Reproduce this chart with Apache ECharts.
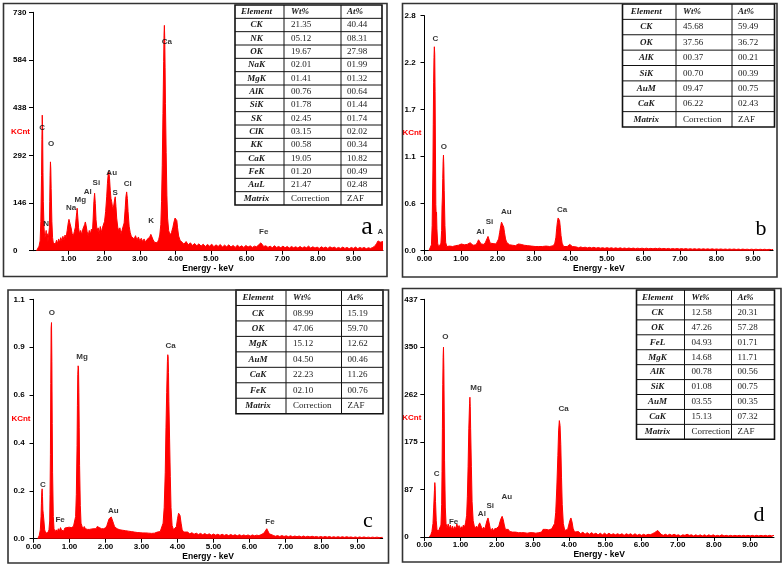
<!DOCTYPE html>
<html>
<head>
<meta charset="utf-8">
<script src="https://cdn.jsdelivr.net/npm/echarts@6.0.0/dist/echarts.min.js"></script>
<style>
  html, body { margin: 0; padding: 0; background: #fff; }
  #chart { width: 782px; height: 565px; }
</style>
</head>
<body>
<div id="chart"></div>
<script>
// EDS spectra, energy (keV) vs counts
const specA = [[0.10,0],[0.14,6],[0.17,14],[0.20,30],[0.22,90],[0.24,230],[0.25,340],[0.26,415],[0.27,370],[0.28,240],[0.29,150],[0.31,70],[0.33,38],[0.35,46],[0.37,62],[0.38,40],[0.40,52],[0.42,28],[0.44,34],[0.46,70],[0.47,150],[0.48,230],[0.49,272],[0.50,250],[0.51,190],[0.53,90],[0.55,40],[0.57,24],[0.60,30],[0.63,20],[0.66,32],[0.69,22],[0.72,36],[0.75,26],[0.78,40],[0.81,30],[0.84,44],[0.87,32],[0.90,48],[0.93,40],[0.96,62],[0.99,85],[1.01,96],[1.03,100],[1.05,90],[1.07,70],[1.10,52],[1.13,44],[1.16,58],[1.19,72],[1.21,98],[1.23,118],[1.24,130],[1.26,100],[1.28,70],[1.31,50],[1.34,62],[1.37,48],[1.40,66],[1.43,60],[1.45,80],[1.47,88],[1.49,78],[1.52,58],[1.55,46],[1.58,62],[1.61,50],[1.64,66],[1.67,58],[1.69,100],[1.71,150],[1.73,176],[1.75,145],[1.77,95],[1.80,62],[1.83,70],[1.86,52],[1.89,74],[1.92,56],[1.95,70],[1.98,64],[2.01,90],[2.04,120],[2.07,165],[2.09,205],[2.11,232],[2.13,242],[2.15,220],[2.17,185],[2.19,160],[2.21,150],[2.23,135],[2.25,128],[2.27,140],[2.29,155],[2.31,165],[2.33,135],[2.35,100],[2.38,72],[2.41,60],[2.44,70],[2.47,52],[2.50,62],[2.53,58],[2.56,85],[2.59,130],[2.61,165],[2.63,180],[2.65,160],[2.67,120],[2.70,75],[2.73,56],[2.76,44],[2.80,50],[2.84,36],[2.88,46],[2.92,32],[2.96,42],[3.00,30],[3.04,38],[3.08,28],[3.12,36],[3.16,26],[3.20,34],[3.24,30],[3.28,42],[3.31,50],[3.34,45],[3.37,34],[3.41,26],[3.45,32],[3.49,24],[3.53,34],[3.56,48],[3.59,80],[3.61,150],[3.63,260],[3.65,420],[3.67,580],[3.68,660],[3.69,690],[3.70,650],[3.71,560],[3.72,450],[3.74,300],[3.76,170],[3.78,100],[3.81,62],[3.85,48],[3.89,56],[3.93,72],[3.96,88],[3.99,100],[4.02,104],[4.04,92],[4.06,70],[4.09,45],[4.13,32],[4.18,26],[4.24,20],[4.30,28],[4.36,18],[4.42,24],[4.48,16],[4.54,22],[4.60,15],[4.66,21],[4.72,14],[4.78,20],[4.84,13],[4.90,19],[4.96,14],[5.02,20],[5.08,12],[5.14,18],[5.20,13],[5.26,19],[5.32,11],[5.38,17],[5.44,12],[5.50,18],[5.56,11],[5.62,16],[5.68,10],[5.74,17],[5.80,11],[5.86,15],[5.92,10],[5.98,16],[6.04,11],[6.10,15],[6.16,10],[6.22,14],[6.28,12],[6.34,18],[6.40,24],[6.44,20],[6.48,13],[6.54,15],[6.60,10],[6.66,14],[6.72,9],[6.78,15],[6.84,10],[6.90,13],[6.96,9],[7.02,14],[7.08,9],[7.14,13],[7.20,8],[7.26,13],[7.32,9],[7.38,12],[7.44,8],[7.50,13],[7.56,8],[7.62,12],[7.68,9],[7.74,14],[7.80,8],[7.86,12],[7.92,8],[7.98,11],[8.04,7],[8.10,12],[8.16,8],[8.22,11],[8.28,7],[8.34,12],[8.40,8],[8.46,11],[8.52,7],[8.58,10],[8.64,7],[8.70,11],[8.76,7],[8.82,10],[8.88,6],[8.94,10],[9.00,7],[9.06,11],[9.12,6],[9.18,10],[9.24,7],[9.30,10],[9.36,6],[9.42,9],[9.48,7],[9.54,10],[9.60,14],[9.65,22],[9.69,30],[9.72,34],[9.75,26],[9.79,30],[9.83,28]];

const specB = [[0.12,0],[0.16,0.02],[0.19,0.07],[0.21,0.3],[0.23,0.95],[0.24,1.5],[0.25,2.0],[0.26,2.3],[0.27,2.43],[0.28,2.34],[0.29,1.9],[0.30,1.2],[0.31,0.55],[0.32,0.42],[0.33,0.46],[0.34,0.26],[0.36,0.09],[0.39,0.04],[0.42,0.05],[0.45,0.09],[0.47,0.24],[0.48,0.52],[0.49,0.64],[0.50,0.86],[0.51,1.06],[0.52,1.14],[0.53,1.0],[0.54,0.72],[0.56,0.3],[0.58,0.1],[0.61,0.05],[0.65,0.04],[0.69,0.055],[0.73,0.04],[0.77,0.05],[0.81,0.045],[0.85,0.06],[0.89,0.05],[0.93,0.065],[0.97,0.06],[1.01,0.08],[1.05,0.085],[1.09,0.07],[1.13,0.06],[1.17,0.075],[1.21,0.085],[1.25,0.095],[1.29,0.08],[1.33,0.065],[1.37,0.08],[1.41,0.07],[1.45,0.1],[1.48,0.13],[1.51,0.11],[1.55,0.08],[1.59,0.09],[1.63,0.075],[1.67,0.1],[1.71,0.14],[1.74,0.17],[1.77,0.13],[1.80,0.09],[1.84,0.075],[1.88,0.085],[1.92,0.07],[1.96,0.08],[2.00,0.1],[2.03,0.14],[2.06,0.22],[2.09,0.3],[2.11,0.34],[2.13,0.35],[2.15,0.32],[2.17,0.28],[2.19,0.22],[2.22,0.14],[2.25,0.1],[2.29,0.08],[2.33,0.07],[2.37,0.08],[2.41,0.065],[2.45,0.075],[2.49,0.06],[2.53,0.07],[2.57,0.08],[2.61,0.09],[2.65,0.075],[2.69,0.06],[2.73,0.065],[2.78,0.05],[2.83,0.06],[2.88,0.045],[2.93,0.055],[2.98,0.045],[3.03,0.05],[3.08,0.04],[3.13,0.05],[3.18,0.04],[3.23,0.05],[3.28,0.045],[3.33,0.055],[3.38,0.045],[3.43,0.05],[3.48,0.045],[3.53,0.06],[3.57,0.09],[3.60,0.16],[3.62,0.26],[3.64,0.34],[3.66,0.39],[3.68,0.4],[3.70,0.36],[3.72,0.28],[3.74,0.18],[3.77,0.09],[3.81,0.05],[3.86,0.045],[3.91,0.05],[3.95,0.06],[3.98,0.075],[4.01,0.07],[4.05,0.05],[4.10,0.04],[4.16,0.045],[4.22,0.035],[4.28,0.045],[4.34,0.035],[4.40,0.042],[4.46,0.033],[4.52,0.04],[4.58,0.032],[4.64,0.04],[4.70,0.03],[4.76,0.038],[4.82,0.03],[4.88,0.036],[4.94,0.028],[5.00,0.036],[5.06,0.028],[5.12,0.035],[5.18,0.027],[5.24,0.034],[5.30,0.026],[5.36,0.034],[5.42,0.026],[5.48,0.032],[5.54,0.025],[5.60,0.032],[5.66,0.025],[5.72,0.031],[5.78,0.024],[5.84,0.03],[5.90,0.024],[5.96,0.03],[6.02,0.023],[6.08,0.03],[6.14,0.023],[6.20,0.028],[6.26,0.022],[6.32,0.029],[6.38,0.024],[6.44,0.03],[6.50,0.022],[6.56,0.027],[6.62,0.021],[6.68,0.027],[6.74,0.02],[6.80,0.026],[6.86,0.02],[6.92,0.026],[6.98,0.019],[7.04,0.025],[7.10,0.019],[7.16,0.025],[7.22,0.018],[7.28,0.024],[7.34,0.018],[7.40,0.024],[7.46,0.017],[7.52,0.023],[7.58,0.017],[7.64,0.023],[7.70,0.017],[7.76,0.022],[7.82,0.016],[7.88,0.022],[7.94,0.016],[8.00,0.021],[8.06,0.016],[8.12,0.021],[8.18,0.015],[8.24,0.02],[8.30,0.015],[8.36,0.02],[8.42,0.015],[8.48,0.02],[8.54,0.014],[8.60,0.019],[8.66,0.014],[8.72,0.019],[8.78,0.014],[8.84,0.018],[8.90,0.013],[8.96,0.018],[9.02,0.013],[9.08,0.018],[9.14,0.013],[9.20,0.017],[9.26,0.013],[9.32,0.017],[9.38,0.012],[9.44,0.016],[9.50,0.013],[9.55,0.015]];

const specC = [[0.12,0],[0.16,0.015],[0.19,0.04],[0.21,0.1],[0.22,0.16],[0.23,0.21],[0.24,0.225],[0.25,0.19],[0.26,0.13],[0.27,0.115],[0.28,0.12],[0.29,0.08],[0.31,0.04],[0.34,0.025],[0.37,0.03],[0.40,0.028],[0.43,0.04],[0.45,0.08],[0.46,0.2],[0.47,0.38],[0.48,0.7],[0.49,0.95],[0.50,0.975],[0.51,0.8],[0.52,0.52],[0.53,0.3],[0.55,0.1],[0.57,0.045],[0.60,0.03],[0.63,0.04],[0.66,0.03],[0.69,0.045],[0.72,0.035],[0.75,0.05],[0.78,0.038],[0.81,0.045],[0.84,0.035],[0.87,0.048],[0.90,0.04],[0.93,0.05],[0.96,0.042],[0.99,0.052],[1.02,0.044],[1.05,0.05],[1.08,0.045],[1.11,0.055],[1.14,0.06],[1.17,0.1],[1.19,0.2],[1.21,0.42],[1.22,0.6],[1.23,0.74],[1.24,0.78],[1.25,0.77],[1.26,0.66],[1.27,0.5],[1.28,0.33],[1.30,0.15],[1.32,0.07],[1.35,0.055],[1.38,0.045],[1.41,0.055],[1.44,0.045],[1.47,0.05],[1.50,0.042],[1.53,0.05],[1.56,0.042],[1.59,0.05],[1.62,0.044],[1.65,0.052],[1.68,0.045],[1.71,0.05],[1.74,0.045],[1.77,0.055],[1.80,0.06],[1.83,0.05],[1.86,0.055],[1.89,0.045],[1.92,0.05],[1.95,0.045],[1.98,0.052],[2.01,0.05],[2.04,0.06],[2.07,0.075],[2.10,0.09],[2.13,0.097],[2.16,0.098],[2.19,0.09],[2.22,0.07],[2.25,0.055],[2.28,0.05],[2.32,0.045],[2.36,0.05],[2.40,0.04],[2.44,0.045],[2.48,0.038],[2.52,0.042],[2.56,0.036],[2.60,0.04],[2.64,0.034],[2.68,0.038],[2.72,0.032],[2.76,0.036],[2.80,0.03],[2.84,0.034],[2.88,0.028],[2.92,0.033],[2.96,0.027],[3.00,0.032],[3.04,0.026],[3.08,0.031],[3.12,0.026],[3.16,0.03],[3.20,0.025],[3.24,0.03],[3.28,0.024],[3.32,0.029],[3.36,0.025],[3.40,0.032],[3.44,0.03],[3.48,0.028],[3.52,0.032],[3.56,0.04],[3.60,0.07],[3.63,0.14],[3.66,0.3],[3.68,0.5],[3.70,0.66],[3.72,0.8],[3.73,0.83],[3.74,0.82],[3.75,0.75],[3.76,0.62],[3.78,0.45],[3.80,0.28],[3.82,0.14],[3.85,0.06],[3.89,0.04],[3.93,0.042],[3.97,0.055],[4.00,0.09],[4.03,0.115],[4.05,0.12],[4.07,0.105],[4.10,0.07],[4.13,0.04],[4.17,0.03],[4.22,0.025],[4.28,0.03],[4.34,0.022],[4.40,0.027],[4.46,0.02],[4.52,0.025],[4.58,0.019],[4.64,0.024],[4.70,0.018],[4.76,0.023],[4.82,0.017],[4.88,0.022],[4.94,0.016],[5.00,0.021],[5.06,0.016],[5.12,0.02],[5.18,0.015],[5.24,0.02],[5.30,0.015],[5.36,0.019],[5.42,0.014],[5.48,0.019],[5.54,0.014],[5.60,0.018],[5.66,0.013],[5.72,0.018],[5.78,0.013],[5.84,0.017],[5.90,0.013],[5.96,0.017],[6.02,0.012],[6.08,0.017],[6.14,0.013],[6.20,0.016],[6.26,0.014],[6.32,0.018],[6.36,0.02],[6.40,0.025],[6.44,0.035],[6.48,0.045],[6.51,0.04],[6.55,0.022],[6.60,0.013],[6.66,0.015],[6.72,0.011],[6.78,0.014],[6.84,0.01],[6.90,0.014],[6.96,0.01],[7.02,0.013],[7.08,0.009],[7.14,0.013],[7.20,0.009],[7.26,0.012],[7.32,0.009],[7.38,0.012],[7.44,0.008],[7.50,0.012],[7.56,0.008],[7.62,0.011],[7.68,0.008],[7.74,0.011],[7.80,0.008],[7.86,0.01],[7.92,0.007],[7.98,0.01],[8.04,0.007],[8.10,0.01],[8.16,0.007],[8.22,0.01],[8.28,0.006],[8.34,0.009],[8.40,0.006],[8.46,0.009],[8.52,0.006],[8.58,0.009],[8.64,0.006],[8.70,0.009],[8.76,0.006],[8.82,0.008],[8.88,0.005],[8.94,0.008],[9.00,0.005],[9.06,0.008],[9.12,0.005],[9.18,0.008],[9.24,0.005],[9.30,0.007],[9.36,0.005],[9.42,0.007],[9.48,0.005],[9.54,0.007],[9.60,0.005],[9.70,0.006]];

const specD = [[0.14,0],[0.18,4],[0.21,10],[0.24,25],[0.26,55],[0.28,85],[0.29,100],[0.30,92],[0.31,65],[0.33,30],[0.35,14],[0.38,10],[0.41,14],[0.44,12],[0.46,22],[0.48,60],[0.49,120],[0.50,200],[0.51,280],[0.52,330],[0.53,349],[0.54,310],[0.55,230],[0.56,140],[0.58,55],[0.60,25],[0.63,16],[0.66,24],[0.69,15],[0.72,22],[0.75,14],[0.78,20],[0.81,13],[0.84,19],[0.87,15],[0.90,24],[0.93,16],[0.96,21],[0.99,14],[1.02,19],[1.05,15],[1.08,22],[1.11,18],[1.14,26],[1.17,40],[1.19,75],[1.21,130],[1.23,200],[1.25,245],[1.26,257],[1.27,240],[1.28,200],[1.30,130],[1.32,65],[1.35,30],[1.38,20],[1.41,16],[1.44,20],[1.47,16],[1.50,22],[1.53,26],[1.55,24],[1.58,18],[1.61,14],[1.64,18],[1.67,14],[1.70,22],[1.73,30],[1.76,35],[1.79,26],[1.82,16],[1.85,12],[1.88,16],[1.91,11],[1.94,15],[1.97,12],[2.00,16],[2.03,13],[2.06,20],[2.09,28],[2.12,34],[2.15,38],[2.18,32],[2.21,22],[2.24,14],[2.28,11],[2.32,14],[2.36,10],[2.40,13],[2.44,9],[2.48,12],[2.52,9],[2.56,12],[2.60,8],[2.64,11],[2.68,8],[2.72,11],[2.76,8],[2.80,10],[2.84,7],[2.88,10],[2.92,8],[2.96,11],[3.00,8],[3.04,10],[3.08,7],[3.12,10],[3.16,8],[3.20,11],[3.24,9],[3.28,14],[3.32,16],[3.36,14],[3.40,17],[3.44,13],[3.48,12],[3.52,15],[3.56,18],[3.60,25],[3.63,45],[3.66,90],[3.69,150],[3.71,195],[3.73,214],[3.75,205],[3.77,170],[3.79,110],[3.81,60],[3.84,25],[3.88,12],[3.92,10],[3.96,14],[3.99,22],[4.02,30],[4.05,35],[4.08,28],[4.11,16],[4.15,9],[4.20,7],[4.26,10],[4.32,6],[4.38,9],[4.44,5],[4.50,8],[4.56,5],[4.62,8],[4.68,5],[4.74,7],[4.80,4],[4.86,7],[4.92,4],[4.98,7],[5.04,4],[5.10,7],[5.16,4],[5.22,6],[5.28,4],[5.34,6],[5.40,4],[5.46,6],[5.52,3],[5.58,6],[5.64,4],[5.70,6],[5.76,3],[5.82,6],[5.88,3],[5.94,5],[6.00,3],[6.06,5],[6.12,3],[6.18,5],[6.24,4],[6.30,6],[6.36,8],[6.41,11],[6.45,12],[6.49,9],[6.54,5],[6.60,3],[6.66,5],[6.72,3],[6.78,5],[6.84,3],[6.90,5],[6.96,3],[7.02,4],[7.08,2],[7.14,4],[7.20,3],[7.26,5],[7.32,3],[7.38,4],[7.44,2],[7.50,4],[7.56,2],[7.62,4],[7.68,2],[7.74,4],[7.80,2],[7.86,4],[7.92,2],[7.98,4],[8.04,2],[8.10,3],[8.16,2],[8.22,4],[8.28,2],[8.34,3],[8.40,2],[8.46,3],[8.52,2],[8.58,3],[8.64,2],[8.70,3],[8.76,2],[8.82,3],[8.88,2],[8.94,3],[9.00,2],[9.06,3],[9.12,2],[9.18,3],[9.24,2],[9.30,3],[9.36,2],[9.42,3],[9.48,2],[9.54,3],[9.60,2],[9.66,3]];

// peak labels (element name, keV, label height)
const peakNamesA = ['C','O','N','Na','Mg','Al','Si','Au','S','Cl','K','Ca','Fe','A'];
const peakXA = [0.26,0.51,0.37,1.07,1.33,1.54,1.78,2.21,2.31,2.66,3.32,3.76,6.48,9.76];
const peakYA = [377,326,81,130,155,180,208,239,177,206,91,639,58,58];
const peakNamesB = ['C','O','Al','Si','Au','Ca'];
const peakXB = [0.30,0.53,1.53,1.78,2.24,3.77];
const peakYB = [2.53,1.24,0.23,0.35,0.46,0.49];
const peakNamesC = ['C','O','Fe','Mg','Au','Ca','Fe'];
const peakXC = [0.26,0.51,0.74,1.35,2.22,3.81,6.57];
const peakYC = [0.244,1.02,0.084,0.82,0.126,0.868,0.078];
const peakNamesD = ['C','O','Fe','Mg','Al','Si','Au','Ca'];
const peakXD = [0.34,0.58,0.81,1.43,1.59,1.82,2.28,3.85];
const peakYD = [116,368,27.6,274,42,58,73.5,235];

// quantification tables
const elemA = ['CK','NK','OK','NaK','MgK','AlK','SiK','SK','ClK','KK','CaK','FeK','AuL'];
const wtA = ['21.35','05.12','19.67','02.01','01.41','00.76','01.78','02.45','03.15','00.58','19.05','01.20','21.47'];
const atA = ['40.44','08.31','27.98','01.99','01.32','00.64','01.44','01.74','02.02','00.34','10.82','00.49','02.48'];
const elemB = ['CK','OK','AlK','SiK','AuM','CaK'];
const wtB = ['45.68','37.56','00.37','00.70','09.47','06.22'];
const atB = ['59.49','36.72','00.21','00.39','00.75','02.43'];
const elemC = ['CK','OK','MgK','AuM','CaK','FeK'];
const wtC = ['08.99','47.06','15.12','04.50','22.23','02.10'];
const atC = ['15.19','59.70','12.62','00.46','11.26','00.76'];
const elemD = ['CK','OK','FeL','MgK','AlK','SiK','AuM','CaK'];
const wtD = ['12.58','47.26','04.93','14.68','00.78','01.08','03.55','15.13'];
const atD = ['20.31','57.28','01.71','11.71','00.56','00.75','00.35','07.32'];

// y axis ranges: max and tick step
const yMax = [730, 2.8, 1.08, 437];
const yStep = [146, 0.56, 0.216, 87.4];
const yDigits = [0, 1, 1, 0];
const xMax = [9.83, 9.55, 9.7, 9.66];
const xTicksA = [1,2,3,4,5,6,7,8,9];
const xTicks = [0,1,2,3,4,5,6,7,8,9];

const SANS = 'Arial, "Liberation Sans", sans-serif';
const SERIF = '"Liberation Serif", "Times New Roman", serif';
const RED = '#ff0000';

const grids = [
  {left: 33, top: 12.3, width: 350, height: 238.4},
  {left: 424.5, top: 15.7, width: 348.6, height: 235},
  {left: 33.5, top: 299.3, width: 349.2, height: 239.4},
  {left: 424.3, top: 299.3, width: 349.7, height: 237.7}
].map(g => Object.assign({outerBoundsMode: 'none', containLabel: false}, g));

const xAxes = grids.map((g, i) => ({
  type: 'value', gridIndex: i, min: 0, max: xMax[i],
  name: 'Energy - keV', nameLocation: 'middle', nameGap: 13,
  nameTextStyle: {fontFamily: SANS, fontWeight: 'bold', fontSize: 8.5, color: '#000'},
  axisLine: {lineStyle: {color: '#000', width: 1}},
  axisTick: {length: 4, lineStyle: {color: '#000'}, customValues: i === 0 ? xTicksA : xTicks},
  axisLabel: {customValues: i === 0 ? xTicksA : xTicks, formatter: v => v.toFixed(2),
    fontFamily: SANS, fontWeight: 'bold', fontSize: 8, color: '#000', margin: 4},
  splitLine: {show: false}
}));

const yAxes = grids.map((g, i) => ({
  type: 'value', gridIndex: i, min: 0, max: yMax[i], interval: yStep[i],
  name: 'KCnt', nameLocation: 'middle', nameRotate: 0, nameGap: 3, nameMoveOverlap: false,
  nameTextStyle: {fontFamily: SANS, fontWeight: 'bold', fontSize: 8, color: RED, align: 'right'},
  axisLine: {show: true, lineStyle: {color: '#000', width: 1}},
  axisTick: {show: true, length: 4, lineStyle: {color: '#000'}},
  axisLabel: {formatter: v => v.toFixed(yDigits[i]), align: 'left', margin: 20,
    fontFamily: SANS, fontWeight: 'bold', fontSize: 8, color: '#000'},
  splitLine: {show: false}
}));

const specs = [specA, specB, specC, specD];
const peaks = [
  [peakNamesA, peakXA, peakYA], [peakNamesB, peakXB, peakYB],
  [peakNamesC, peakXC, peakYC], [peakNamesD, peakXD, peakYD]
];

const series = [];
specs.forEach((s, i) => {
  series.push({
    type: 'line', xAxisIndex: i, yAxisIndex: i, data: s,
    symbol: 'none', silent: true,
    lineStyle: {color: RED, width: 1},
    areaStyle: {color: RED, opacity: 1}
  });
  const [names, xs, ys] = peaks[i];
  series.push({
    type: 'scatter', xAxisIndex: i, yAxisIndex: i, silent: true, symbolSize: 1,
    itemStyle: {color: 'rgba(0,0,0,0)'}, z: 5,
    data: names.map((n, k) => ({name: n, value: [xs[k], ys[k]]})),
    label: {show: true, position: 'inside', formatter: '{b}',
      fontFamily: SANS, fontWeight: 'bold', fontSize: 8, color: '#000'}
  });
});

function ln(x1, y1, x2, y2, w) {
  return {type: 'line', z: 11, shape: {x1, y1, x2, y2}, style: {stroke: '#111', lineWidth: w || 1}};
}
function tx(x, y, t, font, align) {
  return {type: 'text', z: 12, x, y, style: {text: t, font, fill: '#1a1a1a', align, verticalAlign: 'middle'}};
}
function table(cols, top, bottom, els, wts, ats) {
  const rows = [['Element', 'Wt%', 'At%']]
    .concat(els.map((e, k) => [e, wts[k], ats[k]]))
    .concat([['Matrix', 'Correction', 'ZAF']]);
  const h = (bottom - top) / rows.length;
  const bi = 'italic bold 9px ' + SERIF, rg = '9px ' + SERIF;
  const out = [{type: 'rect', z: 10, shape: {x: cols[0], y: top, width: cols[3] - cols[0], height: bottom - top},
    style: {fill: '#fff', stroke: '#111', lineWidth: 1.6}}];
  for (let k = 1; k < rows.length; k++) out.push(ln(cols[0], top + k * h, cols[3], top + k * h));
  out.push(ln(cols[1], top, cols[1], bottom), ln(cols[2], top, cols[2], bottom));
  rows.forEach((r, k) => {
    const cy = top + (k + 0.5) * h;
    out.push(tx((cols[0] + cols[1]) / 2 - 3, cy, r[0], bi, 'center'));
    out.push(tx(cols[1] + 7, cy, r[1], k === 0 ? bi : rg, 'left'));
    out.push(tx(cols[2] + 6, cy, r[2], k === 0 ? bi : rg, 'left'));
  });
  return out;
}
function frame(x, y, w, h) {
  return {type: 'rect', z: 20, shape: {x, y, width: w, height: h}, style: {fill: 'none', stroke: '#333', lineWidth: 1.6}};
}
function letter(x, y, t, size) {
  return {type: 'text', z: 12, x, y, style: {text: t, font: size + 'px ' + SERIF, fill: '#000', align: 'center', verticalAlign: 'middle'}};
}

const graphics = []
  .concat(table([235, 284, 341, 382], 5, 205, elemA, wtA, atA))
  .concat(table([622.5, 676, 732, 774.5], 4, 127, elemB, wtB, atB))
  .concat(table([236, 286, 341.5, 383], 290, 413.7, elemC, wtC, atC))
  .concat(table([636.5, 684.5, 731.5, 774.5], 290, 439.3, elemD, wtD, atD))
  .concat([
    frame(3.5, 3.5, 383.5, 273), frame(402.5, 3.5, 374.5, 273.5),
    frame(8, 290, 380.5, 273), frame(402.5, 288.5, 378.5, 273.5),
    letter(367, 227, 'a', 26), letter(761, 229, 'b', 22),
    letter(368, 521, 'c', 22), letter(759, 515, 'd', 22)
  ]);

const chart = echarts.init(document.getElementById('chart'));
chart.setOption({
  backgroundColor: '#fff',
  animation: false,
  grid: grids,
  xAxis: xAxes,
  yAxis: yAxes,
  series: series,
  graphic: {elements: graphics}
});
</script>
</body>
</html>
